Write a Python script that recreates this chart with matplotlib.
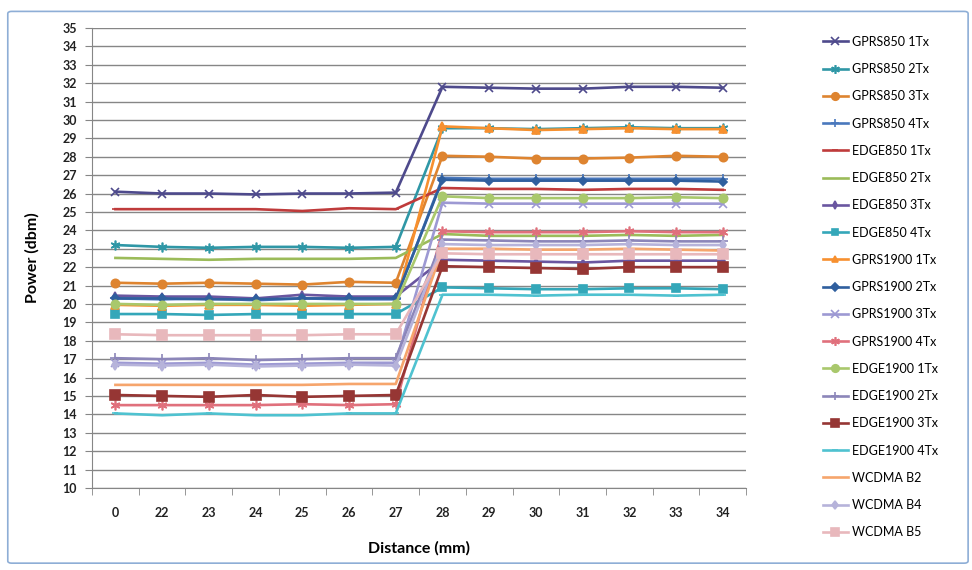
import matplotlib
matplotlib.use("Agg")
import matplotlib.pyplot as plt
from matplotlib.patches import FancyBboxPatch

plt.rcParams['font.family'] = ['Lato', 'DejaVu Sans']

distances = ["0", "22", "23", "24", "25", "26", "27", "28", "29", "30", "31", "32", "33", "34"]

gprs850_1tx = [26.1, 26.0, 26.0, 25.95, 26.0, 26.0, 26.05, 31.8, 31.75, 31.7, 31.7, 31.8, 31.8, 31.75]
gprs850_2tx = [23.2, 23.1, 23.05, 23.1, 23.1, 23.05, 23.1, 29.55, 29.55, 29.5, 29.55, 29.6, 29.55, 29.55]
gprs850_3tx = [21.15, 21.1, 21.15, 21.1, 21.05, 21.2, 21.15, 28.05, 28.0, 27.9, 27.9, 27.95, 28.05, 28.0]
gprs850_4tx = [20.3, 20.25, 20.3, 20.2, 20.3, 20.25, 20.25, 26.85, 26.8, 26.8, 26.8, 26.8, 26.8, 26.8]
edge850_1tx = [25.15, 25.15, 25.15, 25.15, 25.05, 25.2, 25.15, 26.3, 26.25, 26.25, 26.2, 26.25, 26.25, 26.2]
edge850_2tx = [22.5, 22.45, 22.4, 22.45, 22.45, 22.45, 22.5, 23.8, 23.7, 23.7, 23.7, 23.75, 23.7, 23.75]
edge850_3tx = [20.45, 20.4, 20.4, 20.3, 20.5, 20.4, 20.4, 22.4, 22.35, 22.3, 22.25, 22.35, 22.35, 22.35]
edge850_4tx = [19.45, 19.45, 19.4, 19.45, 19.45, 19.45, 19.45, 20.9, 20.85, 20.8, 20.8, 20.85, 20.85, 20.8]
gprs1900_1tx = [19.95, 19.9, 19.95, 19.95, 19.9, 19.95, 20.0, 29.65, 29.55, 29.45, 29.5, 29.55, 29.5, 29.5]
gprs1900_2tx = [20.3, 20.3, 20.25, 20.25, 20.3, 20.3, 20.3, 26.75, 26.7, 26.7, 26.7, 26.7, 26.7, 26.65]
gprs1900_3tx = [16.8, 16.75, 16.8, 16.7, 16.75, 16.8, 16.8, 25.5, 25.45, 25.45, 25.45, 25.45, 25.45, 25.45]
gprs1900_4tx = [14.5, 14.5, 14.5, 14.5, 14.55, 14.5, 14.55, 23.95, 23.9, 23.9, 23.9, 23.95, 23.9, 23.9]
edge1900_1tx = [20.0, 19.95, 20.0, 20.0, 20.0, 20.0, 20.0, 25.85, 25.75, 25.75, 25.75, 25.75, 25.8, 25.75]
edge1900_2tx = [17.05, 17.0, 17.05, 16.95, 17.0, 17.05, 17.05, 23.5, 23.45, 23.4, 23.4, 23.45, 23.4, 23.4]
edge1900_3tx = [15.05, 15.0, 14.95, 15.05, 14.95, 15.0, 15.05, 22.05, 22.0, 21.95, 21.9, 22.0, 22.0, 22.0]
edge1900_4tx = [14.05, 13.95, 14.05, 13.95, 13.95, 14.05, 14.05, 20.5, 20.5, 20.45, 20.5, 20.5, 20.45, 20.5]
wcdma_b2 = [15.6, 15.6, 15.6, 15.6, 15.6, 15.65, 15.65, 23.0, 23.0, 22.95, 22.95, 23.0, 22.95, 22.9]
wcdma_b4 = [16.7, 16.65, 16.7, 16.6, 16.65, 16.7, 16.65, 23.25, 23.2, 23.2, 23.2, 23.25, 23.2, 23.2]
wcdma_b5 = [18.35, 18.3, 18.3, 18.3, 18.3, 18.35, 18.35, 22.75, 22.7, 22.7, 22.7, 22.7, 22.7, 22.7]

# label, values, color, marker, marker size
series = [
    ("GPRS850 1Tx", gprs850_1tx, "#4e4a8c", "x", 6),
    ("GPRS850 2Tx", gprs850_2tx, "#2f97a6", (6, 2, 0), 7),
    ("GPRS850 3Tx", gprs850_3tx, "#de8430", "o", 6),
    ("GPRS850 4Tx", gprs850_4tx, "#4a78bd", "+", 7),
    ("EDGE850 1Tx", edge850_1tx, "#bf3b3b", "_", 5),
    ("EDGE850 2Tx", edge850_2tx, "#9bbb59", None, 0),
    ("EDGE850 3Tx", edge850_3tx, "#6a56a0", "d", 4),
    ("EDGE850 4Tx", edge850_4tx, "#34a7b9", "s", 5.5),
    ("GPRS1900 1Tx", gprs1900_1tx, "#f7902f", "^", 5.5),
    ("GPRS1900 2Tx", gprs1900_2tx, "#2f5f9e", "D", 4),
    ("GPRS1900 3Tx", gprs1900_3tx, "#9d99d3", "x", 6),
    ("GPRS1900 4Tx", gprs1900_4tx, "#e0707c", (6, 2, 0), 7),
    ("EDGE1900 1Tx", edge1900_1tx, "#a9c86c", "o", 6),
    ("EDGE1900 2Tx", edge1900_2tx, "#8c86b9", "+", 7),
    ("EDGE1900 3Tx", edge1900_3tx, "#963634", "s", 6.5),
    ("EDGE1900 4Tx", edge1900_4tx, "#4fc2d0", "_", 5),
    ("WCDMA B2", wcdma_b2, "#f6a56c", None, 0),
    ("WCDMA B4", wcdma_b4, "#b6b3da", "d", 5),
    ("WCDMA B5", wcdma_b5, "#e8b8bc", "s", 6.5),
]

fig = plt.figure(figsize=(9.72, 5.70), dpi=100)
fig.patches.append(FancyBboxPatch((0.008, 0.012), 0.988, 0.968, boxstyle="round,pad=0,rounding_size=0.004",
                                  transform=fig.transFigure, facecolor="white", edgecolor="#8eaed6",
                                  linewidth=1.2, zorder=-1))
ax = fig.add_axes([0.0947, 0.144, 0.673, 0.807])

for label, values, color, marker, ms in series:
    ax.plot(distances, values, color=color, linewidth=1.9, marker=marker, markersize=ms,
            markeredgewidth=1.2, markerfacecolor=color, markeredgecolor=color, label=label)

ax.set_ylim(10, 35)
ax.set_yticks(range(10, 36))
ax.set_xlim(-0.5, len(distances) - 0.5)
ax.set_xticks([i - 0.5 for i in range(len(distances) + 1)], minor=True)
ax.tick_params(axis="x", which="major", length=0, pad=14)
ax.tick_params(axis="x", which="minor", length=5, color="#868686", direction="out")
ax.tick_params(axis="y", length=5, color="#868686", direction="out", pad=6)
for lbl in ax.get_xticklabels() + ax.get_yticklabels():
    lbl.set_fontweight("bold")
    lbl.set_fontsize(9)
    lbl.set_color("#222222")

ax.yaxis.grid(True, color="#868686", linewidth=1.0)
ax.set_axisbelow(True)
for side in ["top", "right"]:
    ax.spines[side].set_visible(False)
for side in ["left", "bottom"]:
    ax.spines[side].set_color("#868686")

ax.set_xlabel("Distance (mm)", fontsize=11.5, fontweight="bold", labelpad=16)
ax.set_ylabel("Power (dbm)", fontsize=11.5, fontweight="bold", labelpad=16)

fig.legend(loc="upper left", bbox_to_anchor=(0.835, 0.957), frameon=False, fontsize=9,
           labelspacing=1.22, handlelength=2.0, handletextpad=0.35, markerscale=0.9)

fig.savefig("out.png", dpi=100)
